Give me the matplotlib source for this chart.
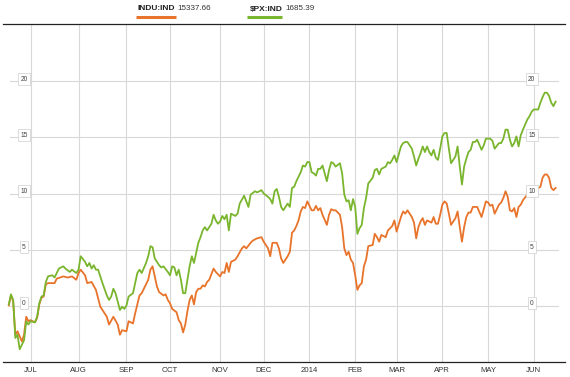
import numpy as np
import pandas as pd
import matplotlib
matplotlib.use("Agg")
import matplotlib.pyplot as plt
import matplotlib.transforms as mtransforms

plt.rcParams['font.family'] = ['Liberation Sans', 'DejaVu Sans']

# trading sessions counted from 17 Jun 2013 (NYSE calendar)
nyse_holidays = ['2013-07-04', '2013-09-02', '2013-11-28', '2013-12-25', '2014-01-01',
                 '2014-01-20', '2014-02-17', '2014-04-18', '2014-05-26']
sessions = pd.bdate_range('2013-06-17', periods=252, freq='C', holidays=nyse_holidays)

month_labels = ['JUL', 'AUG', 'SEP', 'OCT', 'NOV', 'DEC', '2014', 'FEB', 'MAR', 'APR', 'MAY', 'JUN']
y_ticks = [0, 5, 10, 15, 20]

# % change, S&P 500
spx_session = [0, 1, 2, 3, 4, 5, 7, 8, 9, 10, 12, 13, 14, 15, 16, 17, 18, 20, 21, 22, 23, 25, 26, 28, 29,
               31, 32, 33, 35, 36, 37, 38, 39, 40, 41, 43, 45, 46, 47, 48, 49, 51, 52, 53, 54, 55, 57, 58,
               59, 60, 61, 63, 64, 65, 66, 67, 69, 70, 71, 73, 74, 75, 76, 77, 78, 79, 80, 81, 82, 83, 84,
               85, 86, 87, 88, 89, 90, 91, 92, 93, 94, 95, 96, 97, 98, 99, 100, 101, 102, 104, 105, 106,
               108, 109, 110, 111, 113, 114, 115, 116, 117, 119, 120, 121, 122, 123, 124, 125, 126, 127,
               128, 129, 130, 131, 132, 133, 134, 135, 136, 137, 138, 139, 140, 141, 142, 143, 144, 146,
               147, 148, 149, 150, 152, 153, 154, 155, 156, 157, 158, 159, 160, 161, 162, 163, 164, 165,
               167, 168, 169, 170, 171, 173, 174, 175, 176, 177, 178, 180, 181, 182, 183, 184, 185, 186,
               187, 188, 189, 190, 191, 192, 193, 194, 195, 196, 197, 198, 199, 200, 201, 202, 203, 205,
               206, 207, 208, 209, 210, 211, 212, 213, 214, 215, 217, 218, 219, 220, 221, 222, 223, 225,
               226, 227, 228, 229, 230, 231, 232, 233, 234, 235, 236, 238, 239, 240, 241, 243, 244, 245,
               246, 247, 248, 249, 250, 251]
spx_change = [0.1, 1.0, 0.5, -2.9, -2.6, -3.9, -3.1, -1.4, -1.7, -1.4, -1.5, -1.0, 0.2, 0.8, 0.9, 2.1, 2.6,
              2.7, 2.5, 2.9, 3.3, 3.5, 3.3, 3.0, 3.2, 2.9, 3.2, 4.4, 3.9, 3.5, 3.8, 3.3, 3.6, 3.2, 3.2,
              2.0, 0.9, 0.5, 0.8, 1.5, 1.1, -0.4, -0.1, -0.3, 0.0, 0.8, 1.1, 2.0, 2.9, 3.2, 2.9, 3.8,
              4.4, 5.3, 5.2, 4.2, 3.6, 3.4, 3.5, 3.0, 2.7, 3.5, 3.4, 2.7, 3.2, 2.3, 1.1, 1.1, 2.3, 3.5,
              4.4, 3.8, 4.7, 5.6, 6.1, 6.7, 7.0, 6.7, 7.0, 7.3, 8.1, 7.6, 7.3, 7.5, 8.0, 7.7, 8.1, 6.7,
              8.2, 8.0, 8.2, 9.1, 9.8, 9.3, 8.8, 9.9, 10.2, 10.1, 10.2, 10.3, 10.0, 9.7, 9.5, 9.1, 10.2,
              10.4, 9.7, 8.8, 8.5, 8.8, 9.1, 8.8, 10.5, 10.6, 11.1, 11.5, 11.9, 12.5, 12.4, 12.8, 12.8,
              11.9, 11.8, 11.6, 12.2, 12.2, 12.5, 11.1, 12.1, 12.8, 12.7, 12.4, 12.7, 11.8, 9.9, 9.3,
              9.4, 8.5, 9.5, 8.8, 6.4, 6.9, 7.2, 8.7, 9.6, 10.9, 11.4, 12.1, 12.2, 11.7, 12.2, 12.4,
              12.8, 12.7, 13.0, 13.4, 12.8, 14.2, 14.5, 14.6, 14.6, 14.3, 14.0, 13.3, 12.5, 13.1, 13.6,
              14.2, 13.7, 14.2, 13.7, 13.4, 13.9, 13.2, 13.0, 14.0, 15.1, 15.4, 15.4, 14.0, 12.7, 13.3,
              14.2, 12.4, 10.8, 12.4, 13.1, 13.7, 13.9, 14.6, 14.6, 14.8, 13.9, 14.3, 14.9, 14.9, 14.9,
              14.7, 14.0, 14.5, 14.5, 14.9, 15.7, 15.7, 14.8, 14.2, 14.5, 15.1, 14.2, 15.2, 15.7, 16.6,
              16.9, 17.3, 17.5, 17.5, 18.1, 18.6, 19.0, 19.0, 18.7, 18.1, 17.8, 18.2]

# % change, Dow Jones Industrial Average
indu_session = [0, 1, 2, 3, 4, 6, 7, 8, 9, 10, 12, 13, 14, 15, 16, 17, 18, 21, 22, 25, 27, 29, 31, 32, 33,
                35, 36, 38, 40, 42, 45, 46, 48, 50, 51, 52, 54, 55, 57, 58, 60, 61, 62, 64, 65, 66, 67,
                68, 69, 71, 72, 73, 74, 75, 77, 78, 79, 80, 81, 82, 83, 84, 85, 86, 87, 88, 89, 90, 91,
                92, 94, 95, 97, 98, 99, 100, 101, 102, 104, 105, 107, 108, 109, 111, 112, 114, 116, 117,
                119, 120, 121, 123, 124, 125, 126, 128, 129, 130, 131, 132, 133, 134, 135, 136, 137, 139,
                140, 141, 142, 143, 144, 146, 147, 148, 149, 150, 152, 153, 154, 155, 156, 157, 158, 159,
                160, 161, 162, 163, 164, 165, 167, 168, 169, 170, 171, 173, 174, 175, 176, 177, 178, 180,
                181, 182, 183, 184, 185, 186, 187, 188, 189, 190, 191, 192, 194, 195, 196, 197, 198, 199,
                200, 201, 202, 203, 205, 206, 207, 208, 209, 210, 211, 212, 213, 215, 217, 218, 219, 220,
                221, 222, 223, 225, 226, 227, 228, 229, 230, 231, 232, 233, 234, 235, 236, 238, 244, 245,
                246, 247, 248, 249, 250, 251]
indu_change = [0.0, 0.9, 0.4, -2.6, -2.3, -3.2, -2.6, -1.0, -1.4, -1.3, -1.5, -1.1, 0.1, 0.7, 0.8, 1.9,
               2.0, 2.0, 2.4, 2.6, 2.5, 2.6, 2.3, 2.9, 3.2, 2.7, 2.0, 2.1, 1.4, -0.1, -1.0, -1.7, -1.0,
               -1.7, -2.6, -2.2, -2.3, -1.4, -1.6, -0.7, 0.9, 1.1, 1.5, 2.3, 3.2, 3.5, 2.6, 1.7, 1.2, 0.9,
               1.0, 0.5, 0.2, -0.3, -0.6, -1.3, -1.6, -2.4, -1.7, -0.5, 0.5, 0.9, 0.1, 1.2, 1.5, 1.5, 1.8,
               1.7, 2.1, 2.3, 3.3, 3.0, 2.6, 3.0, 2.9, 3.8, 3.0, 3.9, 4.1, 4.4, 5.1, 5.3, 5.1, 5.6, 5.8,
               6.0, 6.1, 5.7, 5.1, 4.4, 5.6, 5.6, 5.1, 4.2, 3.8, 4.4, 4.8, 6.5, 6.7, 7.1, 7.6, 8.4, 8.8,
               8.7, 9.3, 8.5, 8.5, 8.9, 8.5, 8.7, 8.1, 7.2, 8.1, 8.6, 8.5, 8.5, 8.1, 7.0, 5.1, 4.5, 4.8,
               4.1, 3.8, 2.7, 1.4, 1.8, 2.0, 3.5, 4.1, 5.3, 5.4, 6.4, 6.1, 5.7, 6.3, 6.1, 6.7, 6.9, 7.1,
               7.6, 6.6, 7.9, 8.4, 8.2, 8.5, 8.2, 7.9, 7.4, 6.0, 7.0, 7.5, 7.8, 7.2, 7.6, 7.4, 7.9, 7.3,
               7.3, 8.1, 9.0, 9.3, 9.1, 8.2, 7.2, 7.8, 8.4, 7.0, 5.7, 7.0, 7.9, 8.3, 8.3, 8.8, 8.8, 7.9,
               8.6, 9.3, 9.2, 8.9, 9.0, 8.2, 9.0, 9.2, 9.6, 10.2, 9.7, 8.5, 8.4, 8.7, 7.9, 8.8, 9.0, 9.4,
               9.9, 10.6, 11.4, 11.7, 11.7, 11.4, 10.5, 10.3, 10.5]

legend_names = ['INDU:IND', '$PX:IND']
legend_values = ['15337.66', '1685.39']

orange = '#e8732a'
green = '#7ab52e'
grid_c = '#d8d8d8'

W, H = 570, 377
fig = plt.figure(figsize=(W / 100, H / 100), dpi=100)
ax = fig.add_axes([3 / W, 1 - 362 / H, 562 / W, 338 / H])

ax.set_xlim(-2.66, 255.3)
ax.set_ylim(-5.04, 25.13)

# first session of every month
month_pos = [i for i in range(1, len(sessions)) if sessions[i].month != sessions[i - 1].month]
ax.set_xticks(month_pos)
ax.set_xticklabels(month_labels, fontsize=5.6, color='#333333')
ax.tick_params(axis='x', length=0, pad=3.5)
ax.set_yticks([])
for x in month_pos:
    ax.axvline(x, color=grid_c, lw=0.8, zorder=0)
for y in y_ticks:
    ax.axhline(y, xmin=0.0125, xmax=0.9875, color=grid_c, lw=0.8, zorder=0)

ax.plot(indu_session, indu_change, color=orange, lw=1.3, zorder=2)
ax.plot(spx_session, spx_change, color=green, lw=1.3, zorder=3)

for s in ['left', 'right']:
    ax.spines[s].set_visible(False)
for s in ['top', 'bottom']:
    ax.spines[s].set_color('#222222')
    ax.spines[s].set_linewidth(0.9)

trans = mtransforms.blended_transform_factory(ax.transAxes, ax.transData)
box = dict(boxstyle='square,pad=0.35', fc='white', ec='#cfcfcf', lw=0.5)
for y in y_ticks:
    for xa in [0.0374, 0.941]:
        ax.text(xa, y + 0.2, str(y), transform=trans, ha='center', va='center',
                fontsize=4.8, color='#444444', bbox=box, zorder=5)

# legend at the top
legend_x = [137, 250]
bar_x = [(136, 176), (247, 282)]
for name, val, lx, (b0, b1), c in zip(legend_names, legend_values, legend_x, bar_x, [orange, green]):
    t = fig.text(lx / W, 1 - 9 / H, name, fontsize=6.0, fontweight='bold', color='#222222',
                 va='center', ha='left')
    fig.canvas.draw()
    bb = t.get_window_extent()
    fig.text((bb.x1 + 3) / W, 1 - 9 / H, val, fontsize=5.8, color='#333333', va='center', ha='left')
    fig.add_artist(plt.Line2D([b0 / W, b1 / W], [1 - 17 / H, 1 - 17 / H], color=c, lw=2.2,
                              transform=fig.transFigure, solid_capstyle='butt'))

fig.savefig('out.png', dpi=100)
